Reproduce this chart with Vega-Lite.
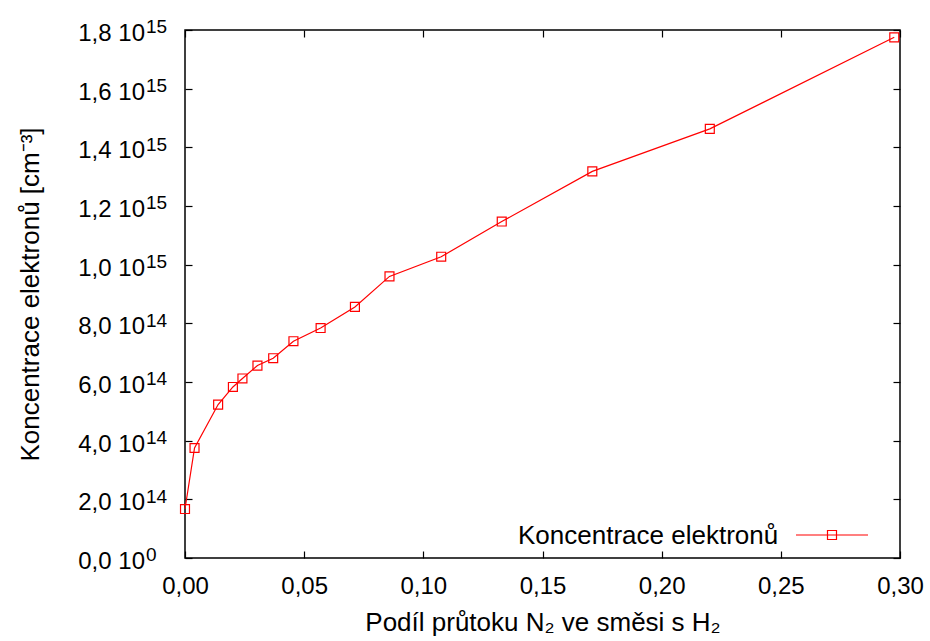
{
  "$schema": "https://vega.github.io/schema/vega-lite/v6.json",
  "autosize": {"type": "none"},
  "padding": {"left": 185, "top": 30, "right": 30, "bottom": 83},
  "width": 715,
  "height": 528,
  "background": "white",
  "config": {
    "view": {"stroke": "#000000", "strokeWidth": 1.5},
    "font": "Liberation Sans",
    "axis": {
      "domain": false,
      "grid": false,
      "tickColor": "#000000",
      "tickWidth": 1.2,
      "tickSize": 7,
      "offset": -7,
      "labelFont": "Liberation Sans",
      "labelFontSize": 24,
      "labelColor": "#000000",
      "labelOverlap": false,
      "labelFlush": false,
      "titleFont": "Liberation Sans",
      "titleFontSize": 26,
      "titleFontWeight": "normal",
      "titleColor": "#000000"
    }
  },
  "data": {
    "values": [
      {"podil": 0.0000, "ne": 1.67e14, "serie": "Koncentrace elektronů"},
      {"podil": 0.0040, "ne": 3.75e14, "serie": "Koncentrace elektronů"},
      {"podil": 0.0139, "ne": 5.23e14, "serie": "Koncentrace elektronů"},
      {"podil": 0.0201, "ne": 5.83e14, "serie": "Koncentrace elektronů"},
      {"podil": 0.0241, "ne": 6.12e14, "serie": "Koncentrace elektronů"},
      {"podil": 0.0304, "ne": 6.56e14, "serie": "Koncentrace elektronů"},
      {"podil": 0.0370, "ne": 6.81e14, "serie": "Koncentrace elektronů"},
      {"podil": 0.0455, "ne": 7.39e14, "serie": "Koncentrace elektronů"},
      {"podil": 0.0569, "ne": 7.84e14, "serie": "Koncentrace elektronů"},
      {"podil": 0.0713, "ne": 8.56e14, "serie": "Koncentrace elektronů"},
      {"podil": 0.0858, "ne": 9.60e14, "serie": "Koncentrace elektronů"},
      {"podil": 0.1075, "ne": 1.027e15, "serie": "Koncentrace elektronů"},
      {"podil": 0.1329, "ne": 1.147e15, "serie": "Koncentrace elektronů"},
      {"podil": 0.1709, "ne": 1.318e15, "serie": "Koncentrace elektronů"},
      {"podil": 0.2202, "ne": 1.463e15, "serie": "Koncentrace elektronů"},
      {"podil": 0.2976, "ne": 1.775e15, "serie": "Koncentrace elektronů"}
    ]
  },
  "layer": [
    {
      "mark": {"type": "line", "color": "#ff0000", "strokeWidth": 1.2, "clip": false},
      "encoding": {
        "x": {
          "field": "podil", "type": "quantitative",
          "scale": {"domain": [0, 0.3], "nice": false, "zero": false},
          "axis": {
            "orient": "bottom",
            "values": [0, 0.05, 0.1, 0.15, 0.2, 0.25, 0.3],
            "labelExpr": "replace(format(datum.value, '.2f'), '.', ',')",
            "labelPadding": 16,
            "title": "Podíl průtoku N₂ ve směsi s H₂",
            "titlePadding": 11
          }
        },
        "y": {
          "field": "ne", "type": "quantitative",
          "scale": {"domain": [0, 1.8e15], "nice": false},
          "axis": {
            "orient": "left",
            "values": [0, 2e14, 4e14, 6e14, 8e14, 1e15, 1.2e15, 1.4e15, 1.6e15, 1.8e15],
            "labelExpr": "datum.value == 0 ? '0,0 10' : (datum.value < 9.9e14 ? replace(format(datum.value / 1e14, '.1f'), '.', ',') + ' 10' : replace(format(datum.value / 1e15, '.1f'), '.', ',') + ' 10')",
            "labelPadding": 40.5,
            "labelOffset": 3.4,
            "title": "Koncentrace elektronů [cm⁻³]",
            "titlePadding": 34
          }
        }
      }
    },
    {
      "mark": {"type": "point", "shape": "square", "filled": false, "size": 80, "strokeWidth": 1.2, "opacity": 1, "clip": false},
      "encoding": {
        "x": {
          "field": "podil", "type": "quantitative",
          "axis": {"orient": "top", "values": [0, 0.05, 0.1, 0.15, 0.2, 0.25, 0.3], "labels": false, "title": null}
        },
        "y": {
          "field": "ne", "type": "quantitative",
          "axis": {"orient": "right", "values": [0, 2e14, 4e14, 6e14, 8e14, 1e15, 1.2e15, 1.4e15, 1.6e15, 1.8e15], "labels": false, "title": null}
        },
        "color": {
          "field": "serie", "type": "nominal",
          "scale": {"range": ["#ff0000"]},
          "legend": {
            "orient": "bottom-right",
            "offset": 9,
            "padding": 0,
            "title": "Koncentrace elektronů",
            "titleOrient": "left",
            "titleAnchor": "middle",
            "titleBaseline": "line-top",
            "titleLineHeight": 32,
            "titleLimit": 500,
            "titleFont": "Liberation Sans",
            "titleFontSize": 26,
            "titleFontWeight": "normal",
            "titleColor": "#000000",
            "titlePadding": 16,
            "labelExpr": "''",
            "labelOffset": 22,
            "symbolType": "M-1,0H1M-0.125,-0.125H0.125V0.125H-0.125Z",
            "symbolSize": 5184,
            "symbolFillColor": "transparent",
            "symbolStrokeColor": "#ff0000",
            "symbolStrokeWidth": 1.2
          }
        }
      }
    },
    {
      "mark": {"type": "point", "opacity": 0},
      "encoding": {
        "x": {"field": "podil", "type": "quantitative", "axis": null},
        "y": {
          "field": "ne", "type": "quantitative",
          "axis": {
            "orient": "left",
            "offset": 0,
            "values": [0, 2e14, 4e14, 6e14, 8e14, 1e15, 1.2e15, 1.4e15, 1.6e15, 1.8e15],
            "labelExpr": "datum.value == 0 ? '0' : (datum.value < 9.9e14 ? '14' : '15')",
            "ticks": false,
            "tickSize": 0,
            "labelAlign": "left",
            "labelBaseline": "middle",
            "labelFontSize": 19,
            "labelPadding": 39.5,
            "labelOffset": -3.2,
            "title": null
          }
        }
      }
    }
  ],
  "resolve": {"axis": {"x": "independent", "y": "independent"}}
}
